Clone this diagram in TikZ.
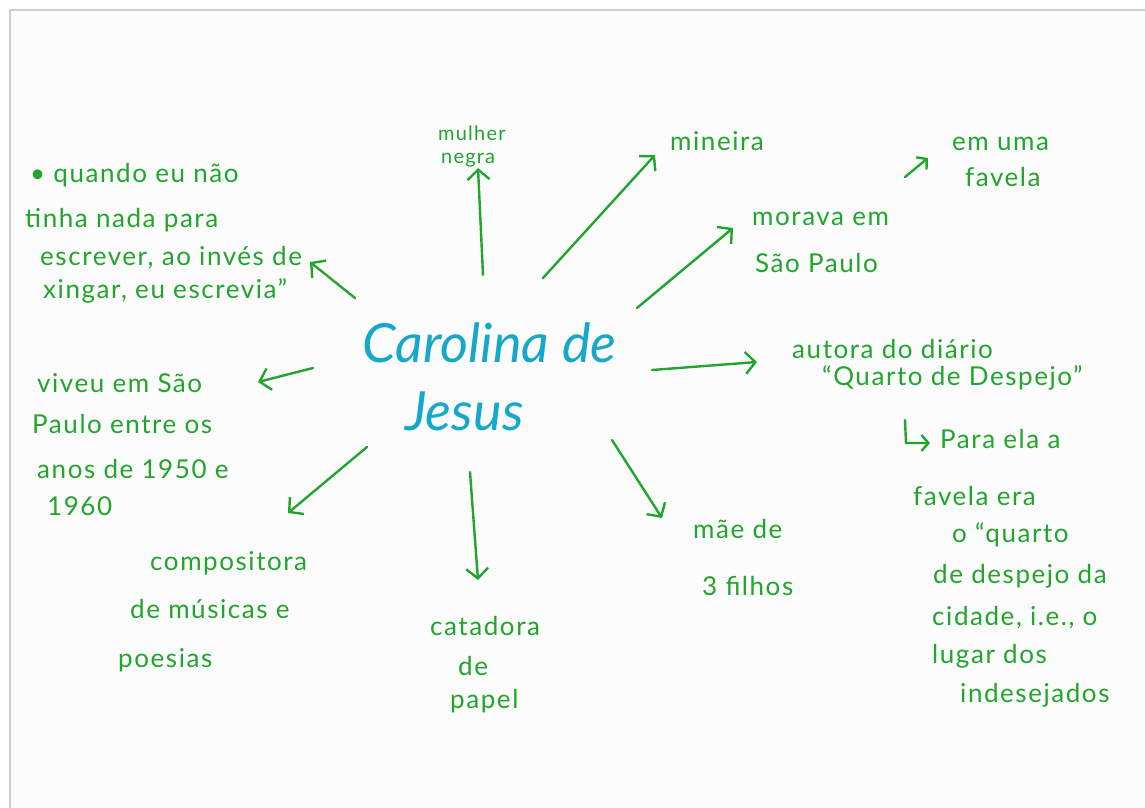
\documentclass[tikz,border=0pt]{standalone}
\usepackage{fontspec}
\setmainfont{Lato}
\newfontfamily\hand[LetterSpace=6]{Lato}
\usetikzlibrary{arrows.meta}
\definecolor{ink}{RGB}{34,165,44}
\definecolor{blueink}{RGB}{22,168,200}
\definecolor{paperedge}{RGB}{205,205,205}
\tikzset{
  txt/.style={text=ink, font=\hand\fontsize{26}{30}\selectfont, inner sep=0pt, anchor=base west},
  smalltxt/.style={txt, font=\hand\fontsize{20}{22}\selectfont},
  title/.style={text=blueink, font=\itshape\fontsize{54}{60}\selectfont, inner sep=0pt, anchor=base west},
  arr/.style={draw=ink, line width=2.4pt, line cap=round,
    -{Straight Barb[length=10pt,width=22pt,line width=2.4pt]}},
  smallarr/.style={draw=ink, line width=2.4pt, line cap=round,
    -{Straight Barb[length=7pt,width=16pt,line width=2.4pt]}},
}
\begin{document}
\begin{tikzpicture}[x=1pt,y=-1pt]
\useasboundingbox (0,0) rectangle (1145,807);
\fill[white] (0,0) rectangle (1145,807);
\draw[paperedge, line width=1.5pt, fill=black!1] (1160,10) -- (10,10) -- (10,820) -- (1160,820) -- cycle;

% centre
\node[title] (c1) at (362,362) {Carolina de};
\node[title] (c2) at (405,430) {Jesus};

% quote
\node[txt] (q1) at (30,182) {• quando eu não};
\node[txt] (q2) at (25,227) {tinha nada para};
\node[txt] (q3) at (40,265) {escrever, ao invés de};
\node[txt] (q4) at (43,298) {xingar, eu escrevia”};

% viveu
\node[txt] (v1) at (37,392) {viveu em São};
\node[txt] (v2) at (32,433) {Paulo entre os};
\node[txt] (v3) at (37,478) {anos de 1950 e};
\node[txt] (v4) at (47,515) {1960};

% compositora
\node[txt] (p1) at (150,570) {compositora};
\node[txt] (p2) at (130,618) {de músicas e};
\node[txt] (p3) at (118,667) {poesias};

% mulher negra
\node[smalltxt] (m1) at (438,140) {mulher};
\node[smalltxt] (m2) at (441,163) {negra};

% mineira
\node[txt] (mi) at (670,150) {mineira};

% em uma favela
\node[txt] (f1) at (952,150) {em uma};
\node[txt] (f2) at (965,186) {favela};

% morava
\node[txt] (s1) at (752,225) {morava em};
\node[txt] (s2) at (755,272) {São Paulo};

% autora
\node[txt] (d1) at (792,358) {autora do diário};
\node[txt] (d2) at (822,385) {“Quarto de Despejo”};

% para ela
\node[txt] (e1) at (940,448) {Para ela a};
\node[txt] (e2) at (913,505) {favela era};
\node[txt] (e3) at (952,542) {o “quarto};
\node[txt] (e4) at (933,583) {de despejo da};
\node[txt] (e5) at (932,625) {cidade, i.e., o};
\node[txt] (e6) at (932,663) {lugar dos};
\node[txt] (e7) at (960,702) {indesejados};

% mae
\node[txt] (h1) at (693,538) {mãe de};
\node[txt] (h2) at (702,595) {3 filhos};

% catadora
\node[txt] (k1) at (430,635) {catadora};
\node[txt] (k2) at (458,675) {de};
\node[txt] (k3) at (450,708) {papel};

% arrow end points
\coordinate (a1s) at (483,275); \coordinate (a1e) at (478,168);
\coordinate (a2s) at (543,278); \coordinate (a2e) at (655,155);
\coordinate (a3s) at (637,308); \coordinate (a3e) at (733,228);
\coordinate (a4s) at (905,177); \coordinate (a4e) at (928,158);
\coordinate (a5s) at (652,370); \coordinate (a5e) at (757,362);
\coordinate (a6s) at (905,420); \coordinate (a6m) at (906,443); \coordinate (a6e) at (930,443);
\coordinate (a7s) at (612,440); \coordinate (a7e) at (662,518);
\coordinate (a8s) at (470,472); \coordinate (a8e) at (478,580);
\coordinate (a9s) at (367,447); \coordinate (a9e) at (288,513);
\coordinate (a10s) at (313,368); \coordinate (a10e) at (258,382);
\coordinate (a11s) at (355,298); \coordinate (a11e) at (310,262);

\draw[arr] (a1s) -- (a1e);
\draw[arr] (a2s) -- (a2e);
\draw[arr] (a3s) -- (a3e);
\draw[smallarr] (a4s) -- (a4e);
\draw[arr] (a5s) -- (a5e);
\draw[smallarr] (a6s) -- (a6m) -- (a6e);
\draw[arr] (a7s) -- (a7e);
\draw[arr] (a8s) -- (a8e);
\draw[arr] (a9s) -- (a9e);
\draw[arr] (a10s) -- (a10e);
\draw[arr] (a11s) -- (a11e);
\end{tikzpicture}
\end{document}
